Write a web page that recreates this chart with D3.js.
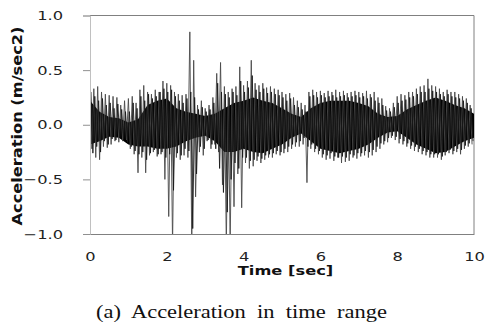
<!DOCTYPE html>
<html lang="en">
  <head>
    <meta charset="utf-8"/>
    <script src="https://d3js.org/d3.v7.min.js"></script>
    <style>
      body { margin: 0; background: #fff; }
    </style>
  </head>
  <body>
    <svg id="chart"></svg>
  <script>
    // x tick values and y tick labels
    const xTicks = [0, 2, 4, 6, 8, 10];
    const yTicks = [1.0, 0.5, 0.0, -0.5, -1.0];

    // outer positive peaks, one every 0.1 s starting at t = 0
    const peakHi = [
      0.35, 0.33, 0.35, 0.30, 0.28, 0.27, 0.26, 0.25, 0.18, 0.22,
      0.24, 0.26, 0.20, 0.32, 0.36, 0.30, 0.28, 0.32, 0.30, 0.40,
      0.38, 0.36, 0.30, 0.28, 0.27, 0.28, 0.85, 0.59, 0.18, 0.22,
      0.15, 0.18, 0.25, 0.47, 0.57, 0.35, 0.30, 0.33, 0.35, 0.53,
      0.36, 0.40, 0.59, 0.38, 0.36, 0.38, 0.34, 0.35, 0.33, 0.32,
      0.30, 0.28, 0.29, 0.25, 0.22, 0.20, 0.18, 0.30, 0.32, 0.30,
      0.31, 0.29, 0.31, 0.30, 0.32, 0.30, 0.31, 0.29, 0.30, 0.31,
      0.30, 0.29, 0.31, 0.28, 0.30, 0.25, 0.24, 0.17, 0.15, 0.20,
      0.26, 0.28, 0.27, 0.30, 0.30, 0.33, 0.35, 0.36, 0.42, 0.36,
      0.35, 0.33, 0.30, 0.32, 0.30, 0.30, 0.28, 0.26, 0.24, 0.18
    ];
    // outer negative peaks, one every 0.1 s starting at t = 0.05
    const peakLo = [
      -0.22, -0.30, -0.32, -0.20, -0.21, -0.18, -0.15, -0.16, -0.15, -0.14,
      -0.22, -0.27, -0.44, -0.30, -0.44, -0.28, -0.25, -0.29, -0.27, -0.50,
      -0.84, -1.10, -0.30, -0.32, -0.28, -0.30, -1.10, -0.66, -0.25, -0.28,
      -0.15, -0.22, -0.18, -0.25, -0.55, -1.10, -1.10, -0.75, -0.45, -0.76,
      -0.35, -0.40, -0.38, -0.33, -0.35, -0.32, -0.30, -0.30, -0.27, -0.28,
      -0.26, -0.25, -0.22, -0.20, -0.20, -0.18, -0.53, -0.22, -0.25, -0.27,
      -0.30, -0.32, -0.31, -0.33, -0.30, -0.35, -0.34, -0.33, -0.30, -0.31,
      -0.29, -0.28, -0.30, -0.28, -0.25, -0.22, -0.18, -0.16, -0.12, -0.14,
      -0.17, -0.18, -0.20, -0.22, -0.24, -0.25, -0.27, -0.28, -0.30, -0.30,
      -0.30, -0.32, -0.28, -0.26, -0.27, -0.25, -0.27, -0.22, -0.20, -0.18
    ];

    // in-between positive peaks, every 0.1 s starting at t = 0.025
    const midHi = [
      0.30, 0.26, 0.22, 0.24, 0.18, 0.20, 0.15, 0.19, 0.14, 0.12,
      0.12, 0.20, 0.15, 0.26, 0.22, 0.28, 0.24, 0.26, 0.30, 0.33,
      0.30, 0.32, 0.26, 0.22, 0.20, 0.24, 0.30, 0.25, 0.14, 0.16,
      0.12, 0.14, 0.20, 0.38, 0.30, 0.28, 0.25, 0.30, 0.27, 0.40,
      0.30, 0.34, 0.45, 0.32, 0.30, 0.33, 0.29, 0.30, 0.28, 0.27,
      0.25, 0.22, 0.24, 0.18, 0.16, 0.14, 0.12, 0.26, 0.27, 0.25,
      0.27, 0.25, 0.26, 0.27, 0.25, 0.26, 0.27, 0.25, 0.26, 0.27,
      0.25, 0.26, 0.24, 0.25, 0.22, 0.20, 0.18, 0.13, 0.12, 0.16,
      0.20, 0.22, 0.23, 0.25, 0.26, 0.28, 0.30, 0.30, 0.33, 0.31,
      0.30, 0.28, 0.26, 0.28, 0.26, 0.25, 0.24, 0.22, 0.20, 0.15
    ];
    // in-between negative peaks, every 0.1 s starting at t = 0.075
    const midLo = [
      -0.26, -0.20, -0.25, -0.15, -0.18, -0.13, -0.14, -0.12, -0.13, -0.16,
      -0.20, -0.24, -0.27, -0.25, -0.32, -0.26, -0.23, -0.27, -0.25, -0.30,
      -0.27, -0.60, -0.26, -0.28, -0.22, -0.24, -0.95, -0.45, -0.20, -0.22,
      -0.14, -0.18, -0.22, -0.40, -0.62, -0.80, -0.50, -0.35, -0.40, -0.30,
      -0.30, -0.33, -0.32, -0.29, -0.31, -0.28, -0.27, -0.26, -0.24, -0.25,
      -0.22, -0.20, -0.18, -0.16, -0.15, -0.12, -0.20, -0.18, -0.22, -0.24,
      -0.27, -0.28, -0.26, -0.29, -0.30, -0.29, -0.30, -0.27, -0.28, -0.26,
      -0.26, -0.24, -0.25, -0.23, -0.20, -0.17, -0.15, -0.12, -0.10, -0.11,
      -0.13, -0.15, -0.17, -0.19, -0.20, -0.22, -0.24, -0.25, -0.27, -0.27,
      -0.27, -0.29, -0.25, -0.23, -0.24, -0.22, -0.23, -0.19, -0.17, -0.15
    ];

    // dense black core of the record, every 0.25 s
    const coreTime = [
      0, 0.25, 0.5, 0.75, 1, 1.25, 1.5, 1.75, 2, 2.25, 2.5, 2.75, 3, 3.25,
      3.5, 3.75, 4, 4.25, 4.5, 4.75, 5, 5.25, 5.5, 5.75, 6, 6.25, 6.5, 6.75,
      7, 7.25, 7.5, 7.75, 8, 8.25, 8.5, 8.75, 9, 9.25, 9.5, 9.75, 10
    ];
    const coreHi = [
      0.22, 0.12, 0.07, 0.06, 0.02, 0.05, 0.18, 0.22, 0.24, 0.15, 0.12, 0.10, 0.08, 0.10,
      0.15, 0.20, 0.22, 0.25, 0.22, 0.20, 0.15, 0.10, 0.07, 0.15, 0.20, 0.22, 0.22, 0.22,
      0.20, 0.17, 0.10, 0.07, 0.08, 0.14, 0.18, 0.22, 0.25, 0.22, 0.18, 0.15, 0.10
    ];
    const coreLo = [
      -0.18, -0.15, -0.11, -0.12, -0.18, -0.20, -0.20, -0.22, -0.22, -0.20, -0.15, -0.12, -0.10, -0.15,
      -0.25, -0.25, -0.22, -0.25, -0.26, -0.22, -0.18, -0.12, -0.08, -0.15, -0.22, -0.24, -0.26, -0.24,
      -0.22, -0.18, -0.12, -0.07, -0.06, -0.12, -0.18, -0.22, -0.26, -0.25, -0.20, -0.15, -0.12
    ];

    const W = 485, H = 324;
    const plotL = 90, plotR = 474, plotT = 15.5, plotB = 234;
    const stretchX = 1.25; // the original figure is a bit wider than tall

    const svg = d3.select("#chart")
      .attr("width", W)
      .attr("height", H);

    const x = d3.scaleLinear().domain([0, 10]).range([plotL, plotR]);
    const y = d3.scaleLinear().domain([-1, 1]).range([plotB, plotT]);

    const widen = (sel, k) => sel.each(function() {
      const len = this.getComputedTextLength();
      d3.select(this)
        .attr("textLength", len * k)
        .attr("lengthAdjust", "spacingAndGlyphs");
    });

    svg.append("defs").append("clipPath")
        .attr("id", "plotClip")
      .append("rect")
        .attr("x", plotL)
        .attr("y", plotT)
        .attr("width", plotR - plotL)
        .attr("height", plotB - plotT);

    // frame: top and right
    svg.append("path")
      .attr("d", `M${plotL},${plotT}H${plotR}V${plotB}`)
      .attr("fill", "none")
      .attr("stroke", "#808080")
      .attr("stroke-width", 1);

    // signal: outer and in-between oscillations
    const zigzag = (hi, lo, t0) => {
      const pts = [];
      hi.forEach((v, i) => {
        pts.push({t: t0 + i * 0.1, a: v});
        pts.push({t: t0 + i * 0.1 + 0.05, a: lo[i]});
      });
      return pts;
    };
    const line = d3.line().x(d => x(d.t)).y(d => y(d.a));

    const plot = svg.append("g").attr("clip-path", "url(#plotClip)");

    plot.append("path")
      .datum(coreTime)
      .attr("fill", "#000")
      .attr("d", d3.area()
        .x(d => x(d))
        .y0((d, i) => y(coreLo[i]))
        .y1((d, i) => y(coreHi[i])));

    plot.append("path")
      .datum(zigzag(peakHi, peakLo, 0))
      .attr("fill", "none")
      .attr("stroke", "#4a4a4a")
      .attr("stroke-width", 0.9)
      .attr("d", line);

    plot.append("path")
      .datum(zigzag(midHi, midLo, 0.025))
      .attr("fill", "none")
      .attr("stroke", "#1a1a1a")
      .attr("stroke-width", 0.9)
      .attr("d", line);

    // y axis
    const yAxis = svg.append("g")
      .attr("transform", `translate(${plotL},0)`)
      .call(d3.axisLeft(y).tickValues(yTicks).tickFormat(d3.format(".1f")).tickSize(7).tickPadding(20));
    yAxis.select(".domain").attr("stroke", "#c0c0c0");
    yAxis.selectAll(".tick line").attr("stroke", "#909090");
    yAxis.selectAll(".tick text")
      .attr("font-family", "DejaVu Sans, sans-serif")
      .attr("font-size", 13)
      .attr("fill", "#222")
      .call(widen, stretchX);

    // x axis
    const xAxis = svg.append("g")
      .attr("transform", `translate(0,${plotB})`)
      .call(d3.axisBottom(x).tickValues(xTicks).tickFormat(d3.format("d")).tickSize(0).tickPadding(18));
    xAxis.select(".domain").attr("stroke", "#808080");
    xAxis.selectAll(".tick text")
      .attr("font-family", "DejaVu Sans, sans-serif")
      .attr("font-size", 13)
      .attr("fill", "#222")
      .call(widen, stretchX);

    // axis titles
    svg.append("text")
      .attr("x", 285.5)
      .attr("y", 275)
      .attr("text-anchor", "middle")
      .attr("font-family", "DejaVu Sans, sans-serif")
      .attr("font-weight", "bold")
      .attr("font-size", 13)
      .attr("fill", "#111")
      .text("Time [sec]")
      .call(widen, stretchX);

    svg.append("text")
      .attr("transform", "translate(22,126) rotate(-90)")
      .attr("text-anchor", "middle")
      .attr("font-family", "DejaVu Sans, sans-serif")
      .attr("font-weight", "bold")
      .attr("font-size", 14)
      .attr("fill", "#111")
      .attr("textLength", 199)
      .attr("lengthAdjust", "spacingAndGlyphs")
      .text("Acceleration (m/sec2)");

    // caption
    svg.append("text")
      .attr("x", 241.5)
      .attr("y", 318)
      .attr("text-anchor", "middle")
      .attr("font-family", "Liberation Serif, serif")
      .attr("font-size", 18)
      .attr("fill", "#111")
      .style("white-space", "pre")
      .text("(a)  Acceleration  in  time  range")
      .call(widen, stretchX);
  </script>
  </body>
</html>
